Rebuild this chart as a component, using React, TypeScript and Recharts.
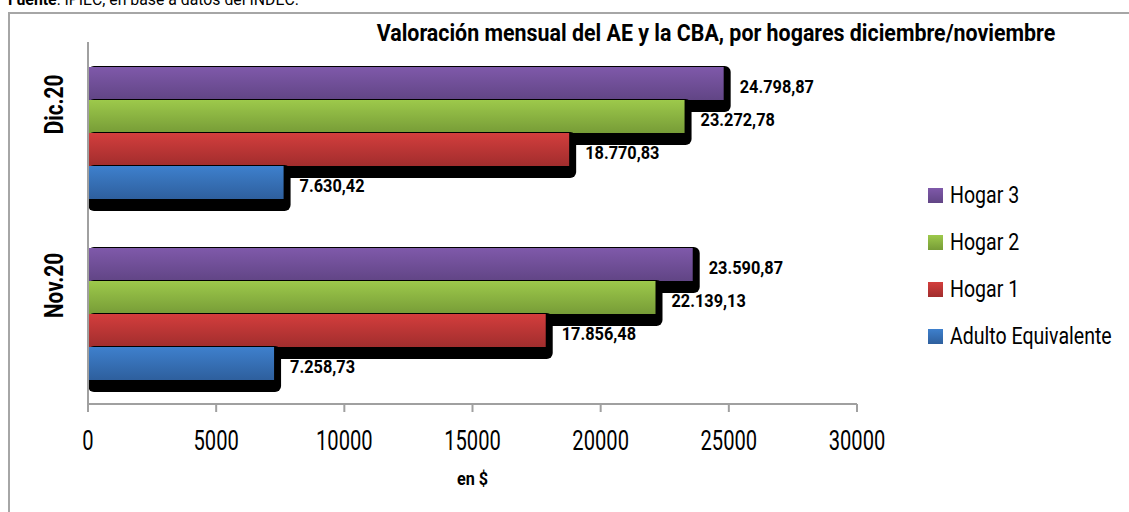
import { BarChart, Bar, XAxis, YAxis, LabelList, Label } from 'recharts';

const FONT = "Roboto, 'DejaVu Sans Condensed', sans-serif";

const categories = ['Dic.20', 'Nov.20'];
const hogar3 = [24798.87, 23590.87];
const hogar2 = [23272.78, 22139.13];
const hogar1 = [18770.83, 17856.48];
const adultoEq = [7630.42, 7258.73];
const xTicks = [0, 5000, 10000, 15000, 20000, 25000, 30000];

const series = [
  { key: 'h3', name: 'Hogar 3', top: '#7f59aa', bottom: '#614585' },
  { key: 'h2', name: 'Hogar 2', top: '#9dc94b', bottom: '#779c37' },
  { key: 'h1', name: 'Hogar 1', top: '#d33e3d', bottom: '#a12d2d' },
  { key: 'ae', name: 'Adulto Equivalente', top: '#3e80cd', bottom: '#2e5f9d' },
];

const data = categories.map((cat, i) => ({
  cat,
  h3: hogar3[i],
  h2: hogar2[i],
  h1: hogar1[i],
  ae: adultoEq[i],
}));

// 24798.87 -> "24.798,87"
const fmt = (v: number) => {
  const [int, dec] = v.toFixed(2).split('.');
  return int.replace(/\B(?=(\d{3})+(?!\d))/g, '.') + ',' + dec;
};

const ShadowBar = (props: any) => {
  const { x, y, width, height, gid } = props;
  if (!width) return null;
  return (
    <g>
      <rect x={x} y={y - 1} width={width + 7} height={height + 13} rx={6} ry={6} fill="#000" />
      <rect x={x} y={y} width={width} height={height} fill={`url(#${gid})`} />
    </g>
  );
};

const ValueLabel = (props: any) => {
  const { x, y, width, height, value } = props;
  return (
    <text
      transform={`translate(${x + width + 16}, ${y + height / 2 + 3}) scale(0.86, 1)`}
      dominantBaseline="central"
      fontFamily={FONT}
      fontWeight="bold"
      fontSize={19}
      fill="#000"
    >
      {fmt(value)}
    </text>
  );
};

const NumTick = (props: any) => {
  const { x, y, payload } = props;
  return (
    <text
      transform={`translate(${x}, ${y}) scale(0.72, 1)`}
      textAnchor="middle"
      dy="0.71em"
      fontFamily={FONT}
      fontSize={28}
      fill="#000"
    >
      {payload.value}
    </text>
  );
};

const CatTick = (props: any) => {
  const { x, y, payload } = props;
  return (
    <text
      transform={`translate(${x - 26}, ${y - 28}) rotate(-90) scale(0.8, 1)`}
      textAnchor="middle"
      dominantBaseline="central"
      fontFamily={FONT}
      fontWeight="bold"
      fontSize={26}
      fill="#000"
    >
      {payload.value}
    </text>
  );
};

const AxisTitle = (props: any) => {
  const { viewBox } = props;
  return (
    <text
      transform={`translate(${viewBox.x + viewBox.width / 2}, ${viewBox.y + 81}) scale(0.9, 1)`}
      textAnchor="middle"
      fontFamily={FONT}
      fontWeight="bold"
      fontSize={18}
      fill="#000"
    >
      en $
    </text>
  );
};

const LegendBox = () => (
  <div style={{ position: 'absolute', left: 928, top: 172, fontFamily: FONT }}>
    {series.map((s) => (
      <div key={s.key} style={{ display: 'flex', alignItems: 'center', height: 47 }}>
        <span
          style={{
            width: 15,
            height: 15,
            marginRight: 7,
            background: `linear-gradient(${s.top}, ${s.bottom})`,
          }}
        />
        <span
          style={{
            fontSize: 23,
            color: '#000',
            whiteSpace: 'nowrap',
            display: 'inline-block',
            transform: 'scaleX(0.85)',
            transformOrigin: 'left center',
          }}
        >
          {s.name}
        </span>
      </div>
    ))}
  </div>
);

export default function App() {
  return (
    <div style={{ position: 'fixed', left: 0, top: 0, width: 1129, height: 512, overflow: 'hidden', background: '#fff' }}>
      <svg width={0} height={0} style={{ position: 'absolute' }}>
        <defs>
          {series.map((s) => (
            <linearGradient key={s.key} id={`g-${s.key}`} x1="0" y1="0" x2="0" y2="1">
              <stop offset="0%" stopColor={s.top} />
              <stop offset="100%" stopColor={s.bottom} />
            </linearGradient>
          ))}
        </defs>
      </svg>
      <div
        style={{
          position: 'absolute',
          left: 8,
          top: -9,
          fontFamily: FONT,
          fontSize: 17,
          lineHeight: '17px',
          whiteSpace: 'nowrap',
          transform: 'scaleX(0.93)',
          transformOrigin: 'left center',
        }}
      >
        <b>Fuente</b>: IPIEC, en base a datos del INDEC.
      </div>
      <div
        style={{
          position: 'absolute',
          left: 8,
          top: 12,
          width: 1125,
          height: 500,
          borderTop: '2px solid #a6a6a6',
          borderLeft: '2px solid #a6a6a6',
        }}
      />
      <div
        style={{
          position: 'absolute',
          left: 216,
          top: 22,
          width: 1000,
          textAlign: 'center',
          fontFamily: FONT,
          fontWeight: 'bold',
          fontSize: 23,
          lineHeight: '23px',
          whiteSpace: 'nowrap',
          transform: 'scaleX(0.93)',
        }}
      >
        Valoración mensual del AE y la CBA, por hogares diciembre/noviembre
      </div>
      <div style={{ position: 'absolute', left: 0, top: 0 }}>
        <BarChart
          width={1129}
          height={512}
          data={data}
          layout="vertical"
          margin={{ top: 42, right: 272, left: 0, bottom: 0 }}
          barSize={33}
          barGap={0}
        >
          <XAxis
            type="number"
            domain={[0, 30000]}
            ticks={xTicks}
            interval={0}
            height={108}
            axisLine={{ stroke: '#a0a0a0', strokeWidth: 2 }}
            tickLine={{ stroke: '#a0a0a0', strokeWidth: 2 }}
            tickSize={8}
            tickMargin={18}
            tick={<NumTick />}
          >
            <Label content={<AxisTitle />} />
          </XAxis>
          <YAxis
            type="category"
            dataKey="cat"
            width={88}
            axisLine={{ stroke: '#a0a0a0', strokeWidth: 2 }}
            tickLine={false}
            tick={<CatTick />}
          />
          {series.map((s) => (
            <Bar
              key={s.key}
              dataKey={s.key}
              name={s.name}
              fill={s.top}
              isAnimationActive={false}
              shape={(p: any) => <ShadowBar {...p} gid={`g-${s.key}`} />}
            >
              <LabelList dataKey={s.key} content={<ValueLabel />} />
            </Bar>
          ))}
        </BarChart>
      </div>
      <LegendBox />
    </div>
  );
}
